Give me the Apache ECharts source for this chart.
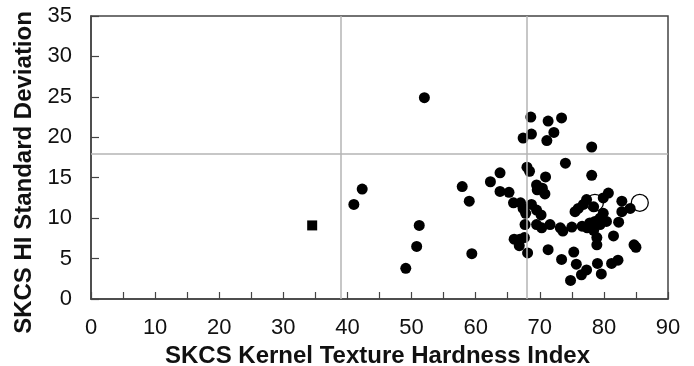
<!DOCTYPE html>
<html>
<head>
<meta charset="utf-8">
<script src="https://cdn.jsdelivr.net/npm/echarts@6/dist/echarts.min.js"></script>
<style>
  html, body { margin: 0; padding: 0; background: #fff; }
  #chart { width: 694px; height: 366px; }
</style>
</head>
<body>
<div id="chart"></div>
<script>
// hardness index (x) and HI standard deviation (y)
const filledX = [41.0, 42.3, 52.0, 51.2, 50.8, 49.1, 57.9, 59.0, 59.4, 62.3,
  63.8, 63.8, 65.2, 65.9, 67.0, 67.4, 67.8, 68.7, 69.5, 70.2,
  67.7, 69.5, 70.3, 71.6, 73.2, 73.6, 75.0, 76.6, 77.4, 78.4,
  79.4, 80.4, 82.3, 66.0, 66.9, 67.6, 66.8, 68.1, 71.3, 73.4,
  75.3, 75.7, 77.3, 76.5, 74.8, 79.0, 79.6, 81.2, 82.2, 78.9,
  78.9, 81.5, 84.7, 85.0, 68.6, 71.3, 73.4, 72.2, 68.7, 67.4,
  71.1, 78.1, 74.0, 68.0, 68.4, 70.9, 78.1, 69.5, 69.6, 70.4,
  70.8, 78.4, 79.9, 80.7, 77.3, 76.8, 76.0, 75.5, 82.8, 82.8,
  84.1, 79.9, 79.4, 78.6, 77.8];
const filledY = [11.7, 13.6, 24.9, 9.1, 6.5, 3.8, 13.9, 12.1, 5.6, 14.5,
  15.6, 13.3, 13.2, 11.9, 11.9, 11.2, 10.6, 11.7, 11.0, 10.4,
  9.2, 9.2, 8.8, 9.2, 8.8, 8.4, 8.9, 9.0, 8.8, 8.5,
  9.2, 9.6, 9.5, 7.4, 7.4, 7.6, 6.6, 5.7, 6.1, 4.9,
  5.8, 4.3, 3.6, 3.0, 2.3, 4.4, 3.1, 4.4, 4.8, 6.7,
  7.6, 7.8, 6.7, 6.4, 22.5, 22.0, 22.4, 20.6, 20.4, 19.9,
  19.6, 18.8, 16.8, 16.3, 15.8, 15.1, 15.3, 14.1, 13.5, 13.7,
  13.0, 11.4, 12.5, 13.1, 12.3, 11.7, 11.2, 10.8, 12.1, 10.8,
  11.2, 10.6, 10.0, 9.6, 9.4];
const openX = [78.6, 85.6];
const openY = [11.9, 11.9];
const squareX = [34.5];
const squareY = [9.1];

// reference lines
const refLinesX = [39, 68];
const refLinesY = [18];

const zip = (xs, ys) => xs.map((x, i) => [x, ys[i]]);

const chart = echarts.init(document.getElementById('chart'));

const textColor = '#111';
const axisColor = '#444';
const font = 'Liberation Sans, Arial, sans-serif';

chart.setOption({
  animation: false,
  grid: {
    left: 91, right: 26, top: 16, bottom: 67,
    outerBoundsMode: 'none',
    show: true,
    borderColor: axisColor,
    borderWidth: 1.5
  },
  xAxis: {
    type: 'value',
    min: 0,
    max: 90,
    interval: 10,
    name: 'SKCS Kernel Texture Hardness Index',
    nameLocation: 'middle',
    nameGap: 44,
    nameTextStyle: { color: textColor, fontSize: 24, fontWeight: 'bold', fontFamily: font, padding: [0, 4, 0, 0] },
    axisLine: { show: true, lineStyle: { color: axisColor, width: 1.5 } },
    axisTick: { show: true, inside: true, length: 7, lineStyle: { color: axisColor, width: 1.2 } },
    minorTick: { show: true, splitNumber: 2, length: 7, lineStyle: { color: axisColor, width: 1.2 } },
    axisLabel: { color: textColor, fontSize: 22, fontFamily: font, margin: 18 },
    splitLine: { show: false }
  },
  yAxis: {
    type: 'value',
    min: 0,
    max: 35,
    interval: 5,
    name: 'SKCS HI Standard Deviation',
    nameLocation: 'middle',
    nameGap: 54,
    nameTextStyle: { color: textColor, fontSize: 24, fontWeight: 'bold', fontFamily: font, padding: [0, 30, 0, 0] },
    axisLine: { show: true, lineStyle: { color: axisColor, width: 1.5 } },
    axisTick: { show: true, inside: true, length: 8, lineStyle: { color: axisColor, width: 1.2 } },
    axisLabel: { color: textColor, fontSize: 22, fontFamily: font, margin: 19, padding: [4, 0, 0, 0] },
    splitLine: { show: false }
  },
  series: [
    {
      type: 'scatter',
      z: 1,
      silent: true,
      data: [],
      markLine: {
        silent: true,
        symbol: 'none',
        label: { show: false },
        lineStyle: { color: '#b4b4b4', width: 1.5, type: 'solid' },
        data: refLinesX.map(v => ({ xAxis: v })).concat(refLinesY.map(v => ({ yAxis: v })))
      }
    },
    {
      type: 'scatter',
      z: 3,
      symbol: 'circle',
      symbolSize: 11,
      itemStyle: { color: '#000', opacity: 1 },
      data: zip(filledX, filledY)
    },
    {
      type: 'scatter',
      z: 3,
      symbol: 'rect',
      symbolSize: 10,
      itemStyle: { color: '#000', opacity: 1 },
      data: zip(squareX, squareY)
    },
    {
      type: 'scatter',
      z: 4,
      symbol: 'circle',
      symbolSize: 17,
      itemStyle: { color: 'rgba(255,255,255,0)', borderColor: '#000', borderWidth: 1.3, opacity: 1 },
      data: zip(openX, openY)
    }
  ]
});
</script>
</body>
</html>
